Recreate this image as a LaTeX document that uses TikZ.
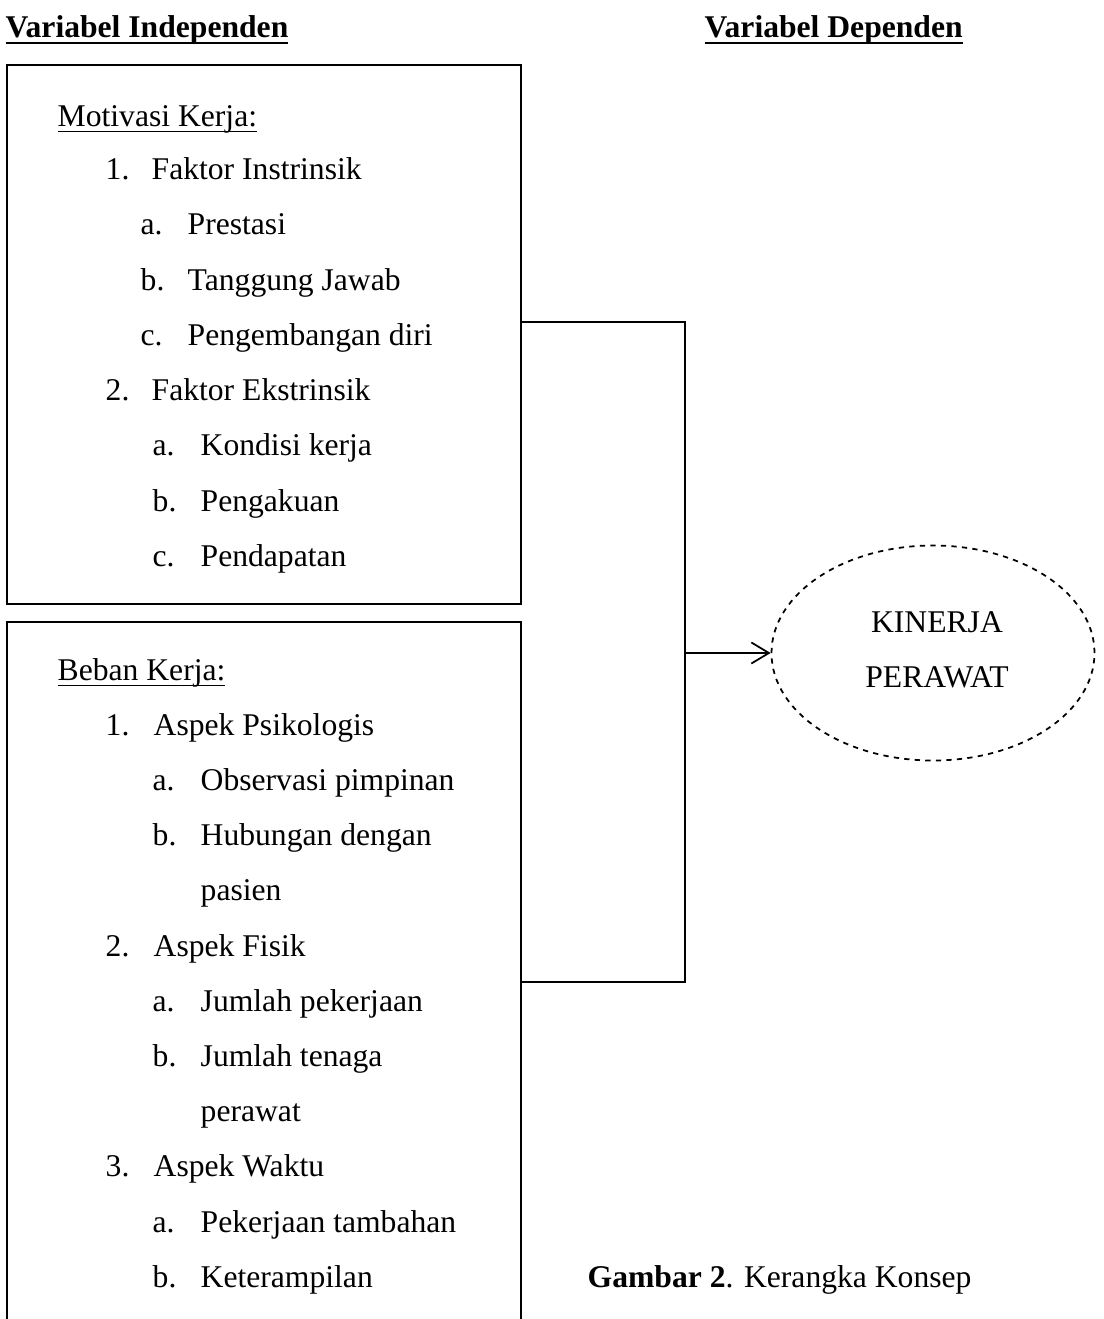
\documentclass[tikz,border=0pt]{standalone}
\usepackage{fontspec}
\setmainfont{Liberation Serif}
\usetikzlibrary{shapes.geometric,arrows.meta}
\newcommand{\headline}[1]{\setbox0\hbox{#1}\rlap{\rule[-4.2pt]{\wd0}{1.6pt}}\box0}
\newcommand{\subline}[1]{\setbox0\hbox{#1}\rlap{\rule[-3.6pt]{\wd0}{1pt}}\box0}
\begin{document}
\begin{tikzpicture}[x=0.02cm,y=-0.02cm,thick,
            txt/.style={anchor=base west,inner sep=0pt,font=\fontsize{18}{22}\selectfont},
            box/.style={draw,line width=1pt},
            link/.style={draw,line width=1pt}]

        \useasboundingbox (0,0) rectangle (1104,1319);

        % Headings
        \node[txt] (hind) at (5,37) {\headline{\textbf{Variabel Independen}}};
        \node[txt] (hdep) at (704,37) {\headline{\textbf{Variabel Dependen}}};

        % Boxes
        \draw[box] (7,65) rectangle (521,604);
        \draw[box] (7,1330) -- (7,622) -- (521,622) -- (521,1330);
        \coordinate (r1) at (521,322);
        \coordinate (r2) at (521,982);
        \coordinate (jn) at (685,653);

        % Motivasi Kerja
        \node[txt] (mk) at (57,126) {\subline{Motivasi Kerja:}};
        \node[txt] (mk1n) at (105,179) {1.};
        \node[txt] (mk1) at (151,179) {Faktor Instrinsik};
        \node[txt] (mk1an) at (140,234) {a.};
        \node[txt] (mk1a) at (187,234) {Prestasi};
        \node[txt] (mk1bn) at (140,290) {b.};
        \node[txt] (mk1b) at (187,290) {Tanggung Jawab};
        \node[txt] (mk1cn) at (140,345) {c.};
        \node[txt] (mk1c) at (187,345) {Pengembangan diri};
        \node[txt] (mk2n) at (105,400) {2.};
        \node[txt] (mk2) at (151,400) {Faktor Ekstrinsik};
        \node[txt] (mk2an) at (152,455) {a.};
        \node[txt] (mk2a) at (200,455) {Kondisi kerja};
        \node[txt] (mk2bn) at (152,511) {b.};
        \node[txt] (mk2b) at (200,511) {Pengakuan};
        \node[txt] (mk2cn) at (152,566) {c.};
        \node[txt] (mk2c) at (200,566) {Pendapatan};

        % Beban Kerja
        \node[txt] (bk) at (57,680) {\subline{Beban Kerja:}};
        \node[txt] (bk1n) at (105,735) {1.};
        \node[txt] (bk1) at (153,735) {Aspek Psikologis};
        \node[txt] (bk1an) at (152,790) {a.};
        \node[txt] (bk1a) at (200,790) {Observasi pimpinan};
        \node[txt] (bk1bn) at (152,845) {b.};
        \node[txt] (bk1b) at (200,845) {Hubungan dengan};
        \node[txt] (bk1b2) at (200,900) {pasien};
        \node[txt] (bk2n) at (105,956) {2.};
        \node[txt] (bk2) at (153,956) {Aspek Fisik};
        \node[txt] (bk2an) at (152,1011) {a.};
        \node[txt] (bk2a) at (200,1011) {Jumlah pekerjaan};
        \node[txt] (bk2bn) at (152,1066) {b.};
        \node[txt] (bk2b) at (200,1066) {Jumlah tenaga};
        \node[txt] (bk2b2) at (200,1121) {perawat};
        \node[txt] (bk3n) at (105,1176) {3.};
        \node[txt] (bk3) at (153,1176) {Aspek Waktu};
        \node[txt] (bk3an) at (152,1232) {a.};
        \node[txt] (bk3a) at (200,1232) {Pekerjaan tambahan};
        \node[txt] (bk3bn) at (152,1287) {b.};
        \node[txt] (bk3b) at (200,1287) {Keterampilan};

        % Dependent variable
        \node[draw,dashed,line width=1pt,ellipse,minimum width=323*0.02cm,minimum height=215*0.02cm,
              inner sep=0pt] (kp) at (933,653) {};
        \node[txt,anchor=base] (kp1) at (937,632) {KINERJA};
        \node[txt,anchor=base] (kp2) at (937,687) {PERAWAT};

        % Caption
        \node[txt] (cap) at (587,1287) {\textbf{Gambar 2}. Kerangka Konsep};

        % Connectors
        \draw[link] (r1) -| (jn) |- (r2);
        \draw[link,-{Straight Barb[length=10pt,width=12pt]}] (jn) -- (kp.west);

\end{tikzpicture}
\end{document}
